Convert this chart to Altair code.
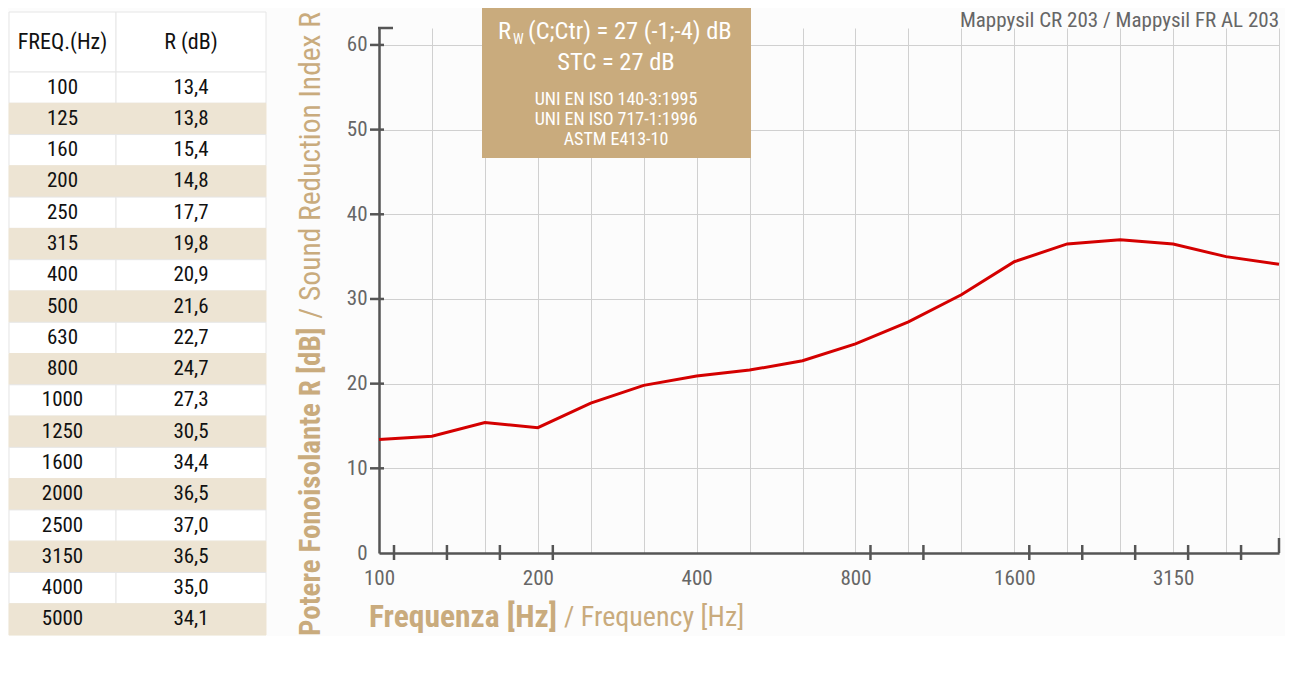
import altair as alt
import pandas as pd

# ---------------- data ----------------
freqs = ["100", "125", "160", "200", "250", "315", "400", "500", "630", "800",
         "1000", "1250", "1600", "2000", "2500", "3150", "4000", "5000"]
r_values = [13.4, 13.8, 15.4, 14.8, 17.7, 19.8, 20.9, 21.6, 22.7, 24.7,
            27.3, 30.5, 34.4, 36.5, 37.0, 36.5, 35.0, 34.1]
x_labels = ["100", "200", "400", "800", "1600", "3150"]
tick_freqs = ["100", "125", "160", "200", "800", "1000", "1600", "2000", "2500", "3150", "4000"]
y_ticks = [0, 10, 20, 30, 40, 50, 60]
table_header = ["FREQ.(Hz)", "R (dB)"]
product_title = "Mappysil CR 203 / Mappysil FR AL 203"
rw_main = "(C;Ctr) = 27 (-1;-4) dB"
stc_line = "STC = 27 dB"
norm_lines = ["UNI EN ISO 140-3:1995", "UNI EN ISO 717-1:1996", "ASTM E413-10"]
y_title_bold = "Potere Fonoisolante R  [dB]"
y_title_norm = "/  Sound Reduction Index R"
x_title_bold = "Frequenza [Hz]"
x_title_norm = "/ Frequency [Hz]"

FONT = "Roboto Condensed, Liberation Sans Narrow, Arial Narrow, sans-serif"
BEIGE = "#c9ab7d"
ROW_BEIGE = "#ede4d3"
AXIS_C = "#555555"
LABEL_C = "#666666"
GRID_C = "#d0d0d0"

W, H = 900, 525

line_df = pd.DataFrame({"freq": freqs, "r": r_values})
xtick_df = pd.DataFrame({"freq": tick_freqs})
ytick_df = pd.DataFrame({"r": y_ticks[1:]})
one = pd.DataFrame({"a": [0]})

label_list = "[" + ",".join("'%s'" % s for s in x_labels) + "]"

X = alt.X("freq:O", sort=freqs,
          scale=alt.Scale(type="point", padding=0),
          axis=alt.Axis(title=None, grid=True, gridColor=GRID_C, gridWidth=1,
                        domainColor=AXIS_C, domainWidth=2.5, ticks=False, tickSize=0,
                        labelExpr="indexof(%s, datum.label) >= 0 ? datum.label : ''" % label_list,
                        labelAngle=0, labelFont=FONT, labelFontSize=21, labelColor=LABEL_C,
                        labelPadding=14))
Y = alt.Y("r:Q", scale=alt.Scale(domain=[0, 62], nice=False, zero=True),
          axis=alt.Axis(title=None, values=y_ticks, grid=True, gridColor=GRID_C, gridWidth=1,
                        domainColor=AXIS_C, domainWidth=2.5, ticks=False, tickSize=0,
                        labelFont=FONT, labelFontSize=21, labelColor=LABEL_C, labelPadding=12))

line = alt.Chart(line_df).mark_line(color="#d40000", strokeWidth=3).encode(x=X, y=Y)

xticks = alt.Chart(xtick_df).mark_rule(color=AXIS_C, strokeWidth=2.5, xOffset=15).encode(
    x=X, y=alt.value(H - 8), y2=alt.value(H + 7))
yticks = alt.Chart(ytick_df).mark_rule(color=AXIS_C, strokeWidth=2.5).encode(
    y=Y, x=alt.value(-9), x2=alt.value(5))

stub_top = alt.Chart(one).mark_rule(color=AXIS_C, strokeWidth=2.5).encode(
    x=alt.value(-1), x2=alt.value(14), y=alt.value(0))
stub_right = alt.Chart(one).mark_rule(color=AXIS_C, strokeWidth=2.5).encode(
    x=alt.value(W), y=alt.value(H - 15), y2=alt.value(H))

box = alt.Chart(one).mark_rect(color=BEIGE).encode(
    x=alt.value(103), x2=alt.value(372), y=alt.value(-20), y2=alt.value(130))


def txt(text, x, y, size, color, align="left", weight="normal", angle=0, baseline="middle"):
    kw = dict(text=text, font=FONT, fontSize=size, color=color, align=align,
              fontWeight=weight, baseline=baseline)
    if angle:
        kw["angle"] = angle
    return alt.Chart(one).mark_text(**kw).encode(x=alt.value(x), y=alt.value(y))


box_texts = [
    txt("R", 119, 4, 24.5, "white"),
    txt("W", 134, 12, 14, "white"),
    txt(rw_main, 149, 4, 24.5, "white"),
    txt(stc_line, 237, 35, 24.5, "white", align="center"),
    txt(norm_lines[0], 237, 72, 18, "white", align="center"),
    txt(norm_lines[1], 237, 92, 18, "white", align="center"),
    txt(norm_lines[2], 237, 112, 18, "white", align="center"),
]

titles = [
    txt(product_title, W, -1, 21, LABEL_C, align="right", baseline="alphabetic"),
    txt(y_title_bold, -68, 608, 29, BEIGE, weight="bold", angle=270),
    txt(y_title_norm, -68, -16, 29.5, BEIGE, align="right", angle=270),
    txt(x_title_bold, -10, 590, 31.5, BEIGE, weight="bold"),
    txt(x_title_norm, 185, 590, 28, BEIGE),
]

main = alt.layer(stub_top, stub_right, line, xticks, yticks, box, *box_texts, *titles)

# ---------------- table ----------------
r_strs = [("%.1f" % v).replace(".", ",") for v in r_values]
rows = [tuple(table_header)] + list(zip(freqs, r_strs))
HEAD_H, ROW_H = 60.0, 31.28
COL_X = [0.0, 107.0, 257.0]
cells = []
for ri, (a, b) in enumerate(rows):
    y0 = 0.0 if ri == 0 else HEAD_H + (ri - 1) * ROW_H
    y1 = HEAD_H if ri == 0 else y0 + ROW_H
    for ci, t in enumerate((a, b)):
        cells.append({"text": t, "x0": COL_X[ci], "x1": COL_X[ci + 1],
                      "xc": (COL_X[ci] + COL_X[ci + 1]) / 2, "y0": y0, "y1": y1,
                      "yc": (y0 + y1) / 2, "shade": bool(ri > 0 and ri % 2 == 0),
                      "head": ri == 0})
cell_df = pd.DataFrame(cells)

tsx = alt.Scale(domain=[0, 257], range=[-370, -113])
tsy = alt.Scale(domain=[0, 623], range=[-16, 607])
t_rect = alt.Chart(cell_df).mark_rect(strokeWidth=1).encode(
    x=alt.X("x0:Q", scale=tsx, axis=None), x2="x1:Q",
    y=alt.Y("y0:Q", scale=tsy, axis=None), y2="y1:Q",
    fill=alt.condition("datum.shade", alt.value(ROW_BEIGE), alt.value("white")),
    stroke=alt.condition("datum.shade", alt.value(ROW_BEIGE), alt.value("#e6e6e6")))
t_text = alt.Chart(cell_df).mark_text(font=FONT, color="#111111", baseline="middle").encode(
    x=alt.X("xc:Q", scale=tsx, axis=None),
    y=alt.Y("yc:Q", scale=tsy, axis=None),
    size=alt.condition("datum.head", alt.value(22), alt.value(21)),
    text="text:N")
table = alt.layer(t_rect, t_text)

chart = alt.layer(main, table).resolve_scale(x="independent", y="independent").properties(
    width=W, height=H, padding=0, background="#fcfcfc"
).configure_view(stroke=None)

chart.save("out.html", embed_options={"renderer": "svg", "actions": False})
